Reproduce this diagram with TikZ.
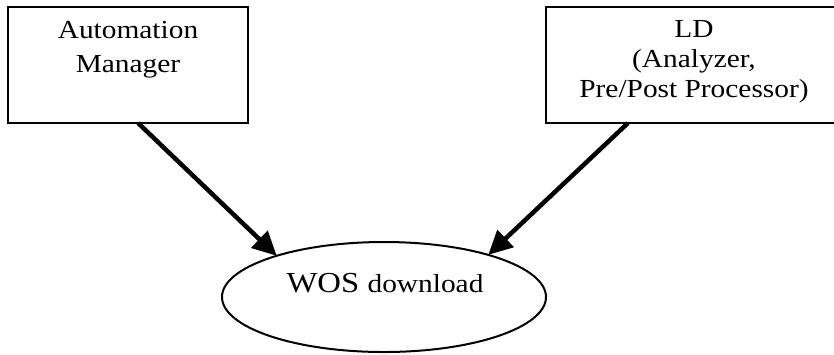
\documentclass[tikz,border=0pt]{standalone}
\usepackage{fontspec}
\setmainfont{Liberation Serif}[FakeStretch=1.13]
\usetikzlibrary{arrows.meta,shapes.geometric,calc}
\tikzset{
  boxnode/.style={draw=black, line width=2pt, fill=white, inner sep=0pt, outer sep=0pt, anchor=north west},
  linetext/.style={anchor=base, inner sep=0pt, font=\fontsize{26}{30}\selectfont},
  ovalnode/.style={draw=black, line width=2pt, ellipse, inner sep=0pt, outer sep=0pt, minimum width=324pt, minimum height=110pt},
  flowarrow/.style={line width=4.5pt, -{Triangle[length=24pt,width=23pt]}}
}
\begin{document}
\begin{tikzpicture}[x=1pt,y=-1pt]
\useasboundingbox (0,0) rectangle (834,354);
% boxes
\node[boxnode, minimum width=240pt, minimum height=116pt] (am) at (8,7) {};
\node[boxnode, minimum width=296pt, minimum height=116pt] (ld) at (546,7) {};
% box texts
\node[linetext] (am1) at (128,38) {Automation};
\node[linetext] (am2) at (128,72) {Manager};
\node[linetext] (ld1) at (694,37) {LD};
\node[linetext] (ld2) at (694,67) {(Analyzer,};
\node[linetext] (ld3) at (694,97) {Pre/Post Processor)};
% ellipse
\node[ovalnode] (wos) at (384,297) {};
\node[anchor=base, inner sep=0pt] (wostext) at (385,292) {\fontsize{29}{32}\selectfont WOS \fontsize{26}{30}\selectfont download};
% arrows
\coordinate (amout) at ($(am.south west)!0.542!(am.south east)$);
\coordinate (ldout) at ($(ld.south west)!0.277!(ld.south east)$);
\draw[flowarrow] (amout) -- (wos.159.5);
\draw[flowarrow] (ldout) -- (wos.22);
\end{tikzpicture}
\end{document}
